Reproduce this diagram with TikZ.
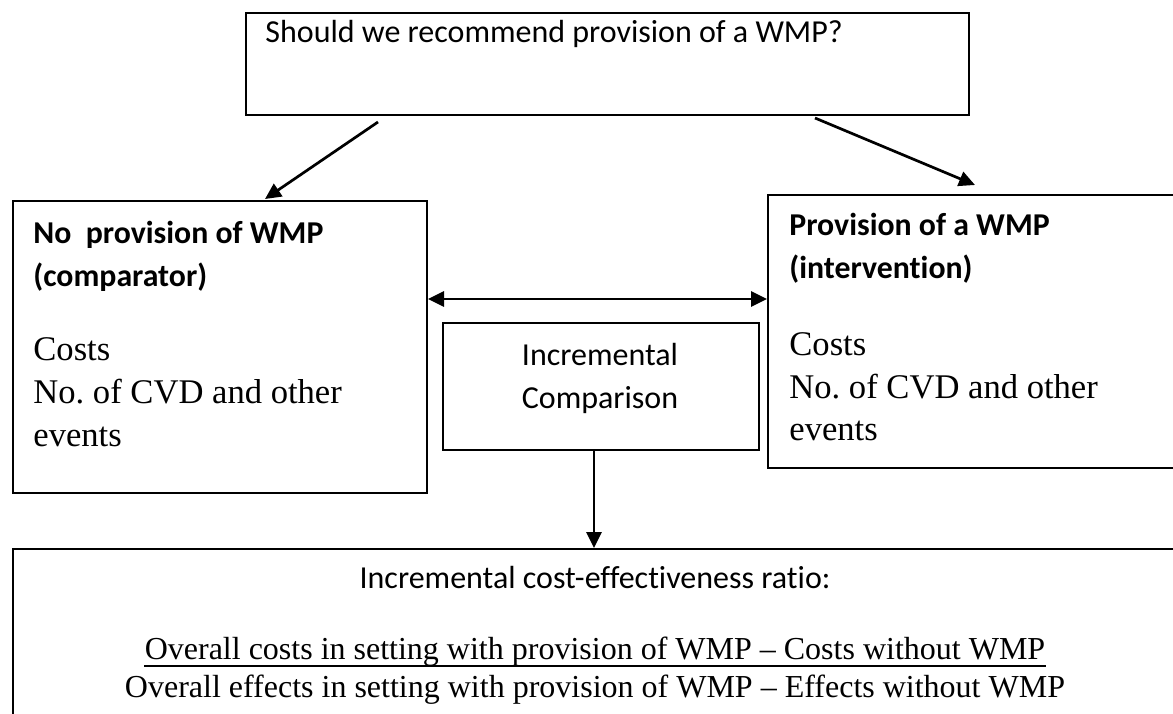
\documentclass[tikz,border=0pt]{standalone}
\usepackage{fontspec}
\setmainfont{Liberation Serif}
\newfontfamily\calibri[Ligatures=NoCommon]{Carlito}
\usetikzlibrary{arrows.meta}
\frenchspacing

\tikzset{
  frame/.style={draw, line width=1pt, anchor=north west, inner sep=0pt},
  link/.style={line width=1.35pt, -{Triangle[length=8pt, width=7.5pt]}},
  dlink/.style={line width=1.35pt, {Triangle[length=8pt, width=7.5pt]}-{Triangle[length=8pt, width=7.5pt]}},
  sanstext/.style={anchor=base west, inner sep=0pt, font=\calibri\fontsize{16}{19}\selectfont},
  headtext/.style={anchor=base west, inner sep=0pt, font=\calibri\bfseries\fontsize{15.9}{19}\selectfont},
  boxtext/.style={anchor=base west, inner sep=0pt, font=\fontsize{17.3}{20}\selectfont},
  ratiotext/.style={anchor=base, inner sep=0pt, font=\fontsize{16}{19}\selectfont}
}

\begin{document}
\begin{tikzpicture}[x=0.5pt, y=-0.5pt]
  \useasboundingbox (0,0) rectangle (1173,713);

  % Question at the top
  \node[frame, minimum width=361.5pt, minimum height=51pt] (question) at (245,12) {};
  \node[sanstext] (qline) at (265,42) {Should we recommend provision of a WMP?};

  % Comparator (left)
  \node[frame, minimum width=207pt, minimum height=146pt] (nowmp) at (12,200) {};
  \node[headtext] (nohead) at (33,243) {No\ \ provision of WMP};
  \node[headtext] (nosub) at (33,286) {(comparator)};
  \node[boxtext] (nocost) at (33,360) {Costs};
  \node[boxtext] (nocvd) at (33,403) {No. of CVD and other};
  \node[boxtext] (noev) at (33,446) {events};

  % Intervention (right, runs off the page)
  \node[frame, minimum width=206pt, minimum height=136.5pt] (wmp) at (767,194) {};
  \node[headtext] (yeshead) at (789,235) {Provision of a WMP};
  \node[headtext] (yessub) at (789,278) {(intervention)};
  \node[boxtext] (yescost) at (789,355) {Costs};
  \node[boxtext] (yescvd) at (789,398) {No. of CVD and other};
  \node[boxtext] (yesev) at (789,440) {events};

  % Incremental comparison (middle)
  \node[frame, minimum width=158pt, minimum height=63.5pt] (incr) at (442,322) {};
  \node[sanstext, anchor=base] (incr1) at (600,365) {Incremental};
  \node[sanstext, anchor=base] (incr2) at (600,408) {Comparison};

  % ICER box at the bottom (cut off by the page)
  \node[frame, minimum width=583pt, minimum height=100pt] (icer) at (12,548) {};
  \node[sanstext, anchor=base] (icertitle) at (595,588) {Incremental cost-effectiveness ratio:};
  \node[ratiotext] (numer) at (595,659) {Overall costs in setting with provision of WMP -- Costs without WMP};
  \draw[line width=0.9pt] (numer.south west) -- (numer.south east);
  \node[ratiotext] (denom) at (595,697) {Overall effects in setting with provision of WMP -- Effects without WMP};

  % Connectors
  \coordinate (qleft) at (378,122);
  \coordinate (qright) at (815,118);
  \coordinate (tipleft) at (265,199);
  \coordinate (tipright) at (975,185);
  \coordinate (midline) at (0,299);
  \draw[link] (qleft) -- (tipleft);
  \draw[link] (qright) -- (tipright);
  \draw[dlink] (nowmp.east |- midline) -- (wmp.west |- midline);
  \draw[link] ([xshift=-3.5pt]incr.south) -- ([xshift=-3.5pt]incr.south |- icer.north);
\end{tikzpicture}
\end{document}
